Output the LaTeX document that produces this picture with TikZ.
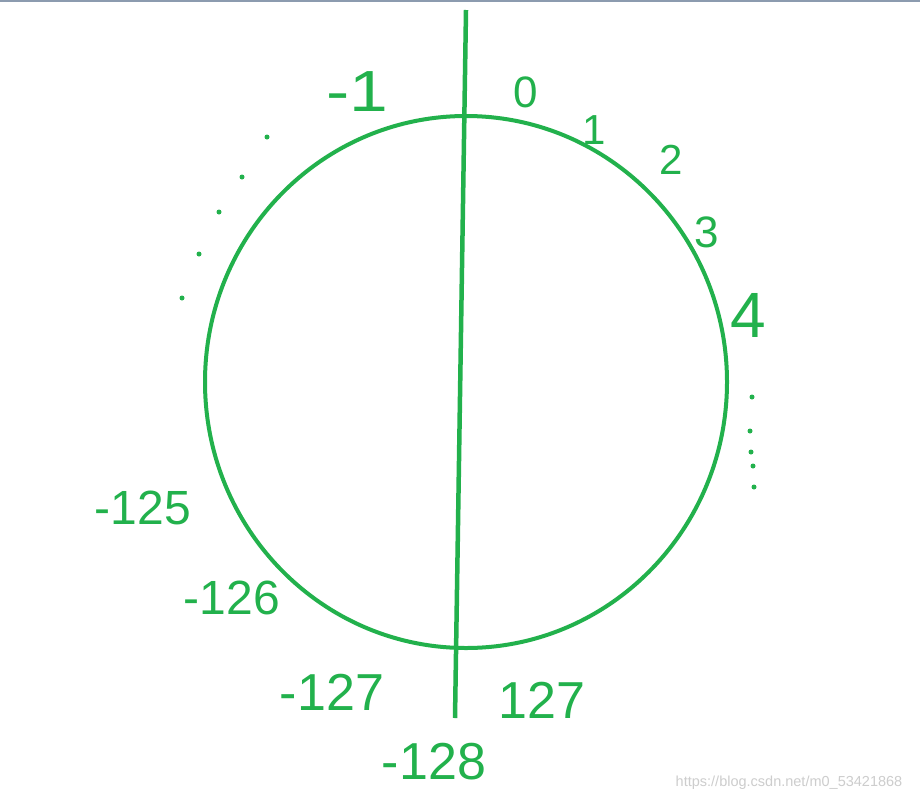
\documentclass[tikz,border=0pt]{standalone}
\usepackage{fontspec}
\setmainfont{Liberation Sans}
\definecolor{pg}{RGB}{34,177,76}
\definecolor{wm}{RGB}{205,205,205}
\definecolor{topbar}{RGB}{140,155,175}
\tikzset{
  lab/.style={text=pg, inner sep=0pt, font=\fontsize{#1}{#1}\selectfont},
  lab/.default=46,
  dot/.style={fill=pg, draw=none, circle, minimum size=5pt, inner sep=0pt}
}
\begin{document}
\begin{tikzpicture}[x=1pt,y=-1pt]
\useasboundingbox[fill=white] (0,0) rectangle (920,803);
\fill[topbar] (0,0) rectangle (920,2);
% circle
\draw[pg, line width=4pt] (466,382) ellipse [x radius=261, y radius=266];
% vertical line
\coordinate (top) at (466,10);
\coordinate (bot) at (455,718);
\draw[pg, line width=4.5pt] (top) -- (bot);
% labels
\node[lab=58, xscale=1.2] (m1) at (357,92) {-1};
\node[lab=44] (l0) at (526,92) {0};
\node[lab=42] (l1) at (594,130) {1};
\node[lab=42] (l2) at (671,160) {2};
\node[lab=44] (l3) at (707,232) {3};
\node[lab=64] (l4) at (748,315) {4};
\node[lab=48] (m125) at (143,508) {-125};
\node[lab=48] (m126) at (232,598) {-126};
\node[lab=52] (m127) at (332,692) {-127};
\node[lab=52] (p127) at (542,700) {127};
\node[lab=52] (m128) at (434,762) {-128};
% dots
\foreach \p [count=\i] in {(267,137),(242,177),(219,212),(199,254),(182,298),(752,397),(750,431),(751,452),(753,466),(754,487)}
  \node[dot] (d\i) at \p {};
% watermark
\node[text=wm, inner sep=0pt, font=\fontsize{14.5}{15}\selectfont] (wmk) at (789,783) {https://blog.csdn.net/m0\_53421868};
\end{tikzpicture}
\end{document}
